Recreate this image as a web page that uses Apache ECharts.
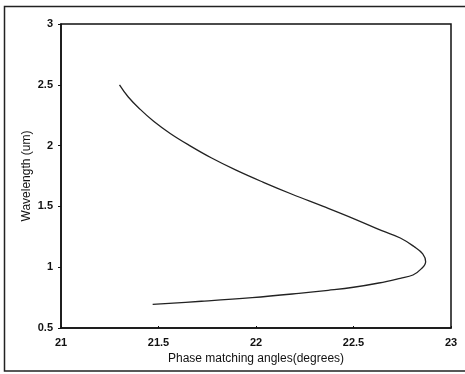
<!DOCTYPE html>
<html>
<head>
<meta charset="utf-8">
<script src="https://cdn.jsdelivr.net/npm/echarts@6/dist/echarts.min.js"></script>
<style>html,body{margin:0;padding:0;background:#fff}#c{width:465px;height:374px}</style>
</head>
<body>
<div id="c"></div>
<script>
const wavelength = [2.5, 2.4, 2.3, 2.2, 2.1, 2.0, 1.9, 1.8, 1.7, 1.6, 1.5, 1.4, 1.3, 1.24, 1.17, 1.11, 1.045, 0.99, 0.936, 0.909, 0.87, 0.835, 0.81, 0.785, 0.75, 0.72, 0.695];
const angle = [21.30, 21.345, 21.405, 21.475, 21.56, 21.66, 21.77, 21.895, 22.035, 22.185, 22.345, 22.50, 22.645, 22.74, 22.81, 22.855, 22.87, 22.85, 22.805, 22.74, 22.63, 22.50, 22.37, 22.22, 21.98, 21.72, 21.47];
const xTicks = [21, 21.5, 22, 22.5, 23];
const yTicks = [0.5, 1, 1.5, 2, 2.5, 3];

const chart = echarts.init(document.getElementById('c'), null, {renderer: 'canvas'});
const font = 'Liberation Sans, Arial, sans-serif';
chart.setOption({
  animation: false,
  backgroundColor: '#fff',
  graphic: [{
    type: 'rect', shape: {x: 4.5, y: 6.5, width: 480, height: 364.5},
    style: {fill: 'none', stroke: '#222', lineWidth: 1.5}, silent: true
  }],
  grid: {left: 61, right: 14, top: 24, bottom: 46, show: true, borderColor: '#111', borderWidth: 1.5, backgroundColor: 'transparent'},
  xAxis: {
    type: 'value', min: 21, max: 23, interval: 0.5,
    name: 'Phase matching angles(degrees)', nameLocation: 'middle', nameGap: 25,
    nameTextStyle: {fontFamily: font, fontSize: 12, color: '#111'},
    axisLine: {show: true, lineStyle: {color: '#111', width: 1.5}},
    axisTick: {show: true, inside: true, length: 2, lineStyle: {color: '#111'}},
    splitLine: {show: false},
    axisLabel: {fontFamily: font, fontSize: 11, fontWeight: 'bold', color: '#111', margin: 9,
      formatter: v => xTicks.includes(v) ? String(v) : ''}
  },
  yAxis: {
    type: 'value', min: 0.5, max: 3, interval: 0.5,
    name: 'Wavelength (um)', nameLocation: 'middle', nameGap: 34, nameMoveOverlap: false,
    nameTextStyle: {fontFamily: font, fontSize: 12, color: '#111', align: 'center', verticalAlign: 'middle'},
    axisLine: {show: true, lineStyle: {color: '#111', width: 1.5}},
    axisTick: {show: true, inside: false, length: 3, lineStyle: {color: '#111'}},
    splitLine: {show: false},
    axisLabel: {fontFamily: font, fontSize: 11, fontWeight: 'bold', color: '#111', margin: 8,
      formatter: v => yTicks.includes(v) ? String(v) : ''}
  },
  series: [{
    type: 'line', smooth: 0.4, symbol: 'none',
    lineStyle: {color: '#222', width: 1.3},
    data: angle.map((a, i) => [a, wavelength[i]])
  }]
});
</script>
</body>
</html>
